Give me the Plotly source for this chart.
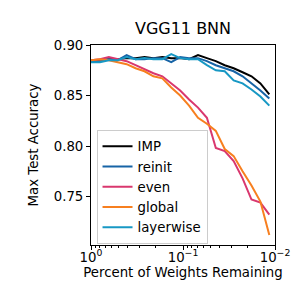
import plotly.graph_objects as go

fraction = [0.8 ** n for n in range(21)]

imp = [0.884, 0.885, 0.886, 0.886, 0.887, 0.887, 0.888, 0.887, 0.888, 0.887, 0.887,
       0.886, 0.890, 0.887, 0.884, 0.880, 0.877, 0.873, 0.869, 0.862, 0.851]
reinit = [0.884, 0.884, 0.886, 0.885, 0.890, 0.886, 0.886, 0.887, 0.887, 0.883, 0.888,
          0.887, 0.887, 0.884, 0.880, 0.877, 0.874, 0.869, 0.862, 0.855, 0.847]
even = [0.885, 0.886, 0.888, 0.886, 0.884, 0.880, 0.876, 0.872, 0.869, 0.862, 0.855,
        0.846, 0.838, 0.828, 0.798, 0.795, 0.785, 0.768, 0.747, 0.744, 0.732]
global_ = [0.885, 0.886, 0.885, 0.883, 0.881, 0.877, 0.874, 0.869, 0.867, 0.858, 0.850,
           0.840, 0.828, 0.822, 0.815, 0.797, 0.790, 0.775, 0.761, 0.745, 0.712]
layerwise = [0.883, 0.883, 0.885, 0.885, 0.888, 0.886, 0.887, 0.886, 0.886, 0.891, 0.887,
             0.886, 0.886, 0.880, 0.875, 0.874, 0.865, 0.862, 0.856, 0.849, 0.840]

series = [
    ("IMP", imp, "#000000"),
    ("reinit", reinit, "#1764a6"),
    ("even", even, "#d9376e"),
    ("global", global_, "#f77f1f"),
    ("layerwise", layerwise, "#1798c4"),
]

x_tickvals = [1, 0.1, 0.01]
x_ticktext = ["10<sup>0</sup>", "10<sup>−1</sup>", "10<sup>−2</sup>"]
x_minor = [k * 10 ** e for e in (-1, -2) for k in range(2, 10)]
y_tickvals = [0.75, 0.80, 0.85, 0.90]

FONT = "DejaVu Sans"
FS = 13.3

fig = go.Figure()
for name, vals, color in series:
    fig.add_trace(go.Scatter(x=fraction, y=vals, mode="lines", name=name,
                             line=dict(color=color, width=2)))

fig.update_layout(
    width=299, height=299,
    margin=dict(l=83, r=32, t=37, b=62, autoexpand=False),
    paper_bgcolor="white", plot_bgcolor="white",
    font=dict(family=FONT, size=FS, color="black"),
    title=dict(text="VGG11 BNN", x=(83 + 267) / 2 / 299, xanchor="center",
               y=1 - 20 / 299, yanchor="middle", font=dict(size=16)),
    showlegend=True,
    legend=dict(x=0.03, y=0.575, xanchor="left", yanchor="top",
                bgcolor="rgba(255,255,255,0.8)", bordercolor="#cccccc", borderwidth=1,
                font=dict(size=FS), tracegroupgap=0, itemwidth=30),
)
fig.update_xaxes(
    type="log", range=[0, -2], automargin=False,
    tickmode="array", tickvals=x_tickvals, ticktext=x_ticktext,
    ticks="outside", ticklen=4, tickwidth=1, tickcolor="black",
    ticklabelstandoff=-4,
    showline=True, linecolor="black", linewidth=1, mirror=True,
    showgrid=False, zeroline=False,
    minor=dict(tickmode="array", tickvals=x_minor, ticks="outside", ticklen=2,
               tickcolor="black", showgrid=False),
    title=dict(text="Percent of Weights Remaining", standoff=0, font=dict(size=FS)),
)
fig.update_yaxes(
    range=[0.702, 0.90], automargin=False,
    tickmode="array", tickvals=y_tickvals, ticktext=[f"{v:.2f}" for v in y_tickvals],
    ticks="outside", ticklen=4, tickwidth=1, tickcolor="black",
    showline=True, linecolor="black", linewidth=1, mirror=True,
    showgrid=False, zeroline=False,
    title=dict(text="Max Test Accuracy", standoff=12, font=dict(size=FS)),
)

fig.write_html("out.html")
